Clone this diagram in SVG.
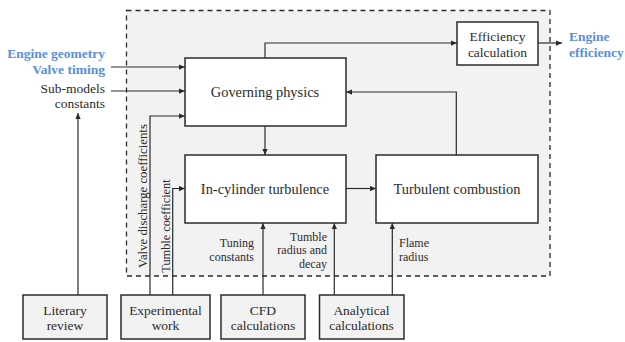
<svg xmlns="http://www.w3.org/2000/svg" width="625" height="342" viewBox="0 0 625 342">
<style>
.t{font-family:"Liberation Serif",serif;fill:#2b2b2b}
.b{font-size:13.5px;text-anchor:middle}
.m{font-size:14.4px;text-anchor:middle}
.s{font-size:12px}
.blue{font-family:"Liberation Serif",serif;font-weight:bold;font-size:13.5px;fill:#5a8fd8}
.box{fill:#fff;stroke:#2b2b2b;stroke-width:1.5}
.src{fill:#f2f2f2;stroke:#2b2b2b;stroke-width:1.5}
.c{fill:none;stroke:#2b2b2b;stroke-width:1.2;marker-end:url(#a)}
</style>
<defs>
<marker id="a" viewBox="0 0 8 8" refX="8" refY="4" markerWidth="6" markerHeight="6" markerUnits="userSpaceOnUse" orient="auto">
<path d="M0,0.5 L8,4 L0,7.5 z" fill="#2b2b2b"/>
</marker>
</defs>
<rect width="625" height="342" fill="#fff"/>
<rect x="126.5" y="10.5" width="423.5" height="265.5" fill="#f2f2f2" stroke="#2b2b2b" stroke-width="1.3" stroke-dasharray="5,4"/>

<g id="connectors">
<polyline class="c" points="265,58 265,43 457,43"/>
<line class="c" x1="538" y1="43" x2="562" y2="43"/>
<line class="c" x1="111" y1="67" x2="185" y2="67"/>
<line class="c" x1="111" y1="91" x2="185" y2="91"/>
<polyline class="c" points="150,295 150,116 185,116"/>
<polyline class="c" points="172.7,295 172.7,188.5 185,188.5"/>
<line class="c" x1="78" y1="295" x2="78" y2="113"/>
<line class="c" x1="265" y1="126" x2="265" y2="155"/>
<line class="c" x1="346" y1="188.5" x2="376" y2="188.5"/>
<polyline class="c" points="456.3,155 456.3,92 346,92"/>
<line class="c" x1="263" y1="295" x2="263" y2="223"/>
<line class="c" x1="334.3" y1="295" x2="334.3" y2="223"/>
<line class="c" x1="392.3" y1="295" x2="392.3" y2="223"/>
</g>

<g id="governing">
<rect class="box" x="185" y="58" width="161" height="68"/>
<text class="t m" x="265" y="97">Governing physics</text>
</g>
<g id="efficiency">
<rect class="box" x="457" y="22" width="81" height="43"/>
<text class="t b" x="497.5" y="40.5">Efficiency</text>
<text class="t b" x="497.5" y="56.5">calculation</text>
</g>
<g id="incylinder">
<rect class="box" x="185" y="155" width="161" height="68"/>
<text class="t m" x="265" y="194">In-cylinder turbulence</text>
</g>
<g id="combustion">
<rect class="box" x="376" y="155" width="162" height="68"/>
<text class="t m" x="457" y="194">Turbulent combustion</text>
</g>
<g id="literary">
<rect class="src" x="23" y="295" width="84" height="44"/>
<text class="t b" x="65" y="315">Literary</text>
<text class="t b" x="65" y="330">review</text>
</g>
<g id="experimental">
<rect class="src" x="121" y="295" width="89" height="44"/>
<text class="t b" x="165.5" y="315">Experimental</text>
<text class="t b" x="165.5" y="330">work</text>
</g>
<g id="cfd">
<rect class="src" x="221" y="295" width="84" height="44"/>
<text class="t b" x="263" y="315">CFD</text>
<text class="t b" x="263" y="330">calculations</text>
</g>
<g id="analytical">
<rect class="src" x="319.5" y="295" width="84.5" height="44"/>
<text class="t b" x="361.5" y="315">Analytical</text>
<text class="t b" x="361.5" y="330">calculations</text>
</g>

<g id="labels">
<text class="blue" x="105" y="58" text-anchor="end">Engine geometry</text>
<text class="blue" x="105" y="74" text-anchor="end">Valve timing</text>
<text class="t" font-size="13.5" x="105" y="92.5" text-anchor="end">Sub-models</text>
<text class="t" font-size="13.5" x="105" y="108" text-anchor="end">constants</text>
<text class="blue" x="569" y="40.5">Engine</text>
<text class="blue" x="569" y="56.5">efficiency</text>
<text class="t" font-size="12.8" transform="translate(146.5,196) rotate(-90)" text-anchor="middle">Valve discharge coefficients</text>
<text class="t" font-size="12.3" transform="translate(169.5,226) rotate(-90)" text-anchor="middle">Tumble coefficient</text>
<text class="t s" x="254" y="246.5" text-anchor="end">Tuning</text>
<text class="t s" x="254" y="260.5" text-anchor="end">constants</text>
<text class="t s" x="327" y="240.5" text-anchor="end">Tumble</text>
<text class="t s" x="327" y="254" text-anchor="end">radius and</text>
<text class="t s" x="327" y="267.5" text-anchor="end">decay</text>
<text class="t s" x="399" y="246.5">Flame</text>
<text class="t s" x="399" y="260.5">radius</text>
</g>
</svg>
